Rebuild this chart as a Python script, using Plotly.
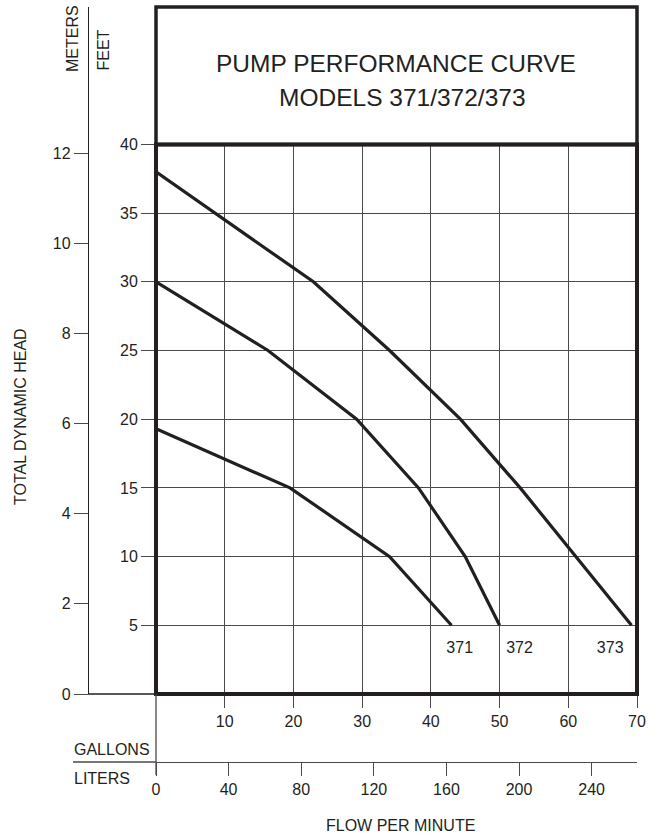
import plotly.graph_objects as go

# ---------------- data ----------------
gpm_371 = [0, 19.5, 34.0, 43.0]
ft_371 = [19.3, 15, 10, 5]
gpm_372 = [0, 16.3, 29.2, 38.2, 45.0, 50.0]
ft_372 = [30, 25, 20, 15, 10, 5]
gpm_373 = [0, 22.9, 34.0, 44.3, 53.0, 69.2]
ft_373 = [38.0, 30, 25, 20, 15, 5]

model_names = ["371", "372", "373"]
label_gpm = [44.2, 52.9, 66.1]
label_ft = [3.3, 3.3, 3.3]

gallon_ticks = [10, 20, 30, 40, 50, 60, 70]
liter_ticks = [0, 40, 80, 120, 160, 200, 240]
feet_ticks = [5, 10, 15, 20, 25, 30, 35, 40]
meter_ticks = [0, 2, 4, 6, 8, 10, 12]

title_lines = ["PUMP PERFORMANCE CURVE", "MODELS 371/372/373"]

GPM_MAX = 70
FT_MAX = 50          # top of title box
FT_GRID_TOP = 40
FT_TO_M = 0.3048
GAL_TO_L = 3.78541

# ---------------- layout geometry (pixels) ----------------
W, H = 659, 837
PX_L, PX_R = 156, 637
PY_BOT, PY_TOP = 694, 7
PX_METERS = 88
PY_LITERS = 762

def px(x):
    return x / W

def py(y):
    return (H - y) / H

def fy(ft):
    # feet -> paper y
    return py(PY_BOT) + (py(PY_TOP) - py(PY_BOT)) * ft / FT_MAX

INK = "#231f20"
GRID = "#4a4a4a"
FONT = "Liberation Sans, Arial, sans-serif"

fig = go.Figure()

for g, f in [(gpm_371, ft_371), (gpm_372, ft_372), (gpm_373, ft_373)]:
    fig.add_trace(go.Scatter(x=g, y=f, mode="lines",
                             line=dict(color=INK, width=3.2),
                             showlegend=False, hoverinfo="skip",
                             xaxis="x", yaxis="y"))

fig.add_trace(go.Scatter(x=label_gpm, y=label_ft, text=model_names, mode="text",
                         textfont=dict(family=FONT, size=16, color=INK),
                         showlegend=False, hoverinfo="skip", cliponaxis=False))

# dummy traces to activate secondary axes
fig.add_trace(go.Scatter(x=[0], y=[0], xaxis="x", yaxis="y2", mode="markers",
                         marker=dict(opacity=0), showlegend=False, hoverinfo="skip"))
fig.add_trace(go.Scatter(x=[0], y=[0], xaxis="x2", yaxis="y", mode="markers",
                         marker=dict(opacity=0), showlegend=False, hoverinfo="skip"))

tickfont = dict(family=FONT, size=16, color=INK)

fig.update_layout(
    width=W, height=H, autosize=False,
    margin=dict(l=0, r=0, t=0, b=0, autoexpand=False),
    paper_bgcolor="white", plot_bgcolor="white",
    font=dict(family=FONT, color=INK),
    xaxis=dict(domain=[px(PX_L), px(PX_R)], range=[0, GPM_MAX],
               tickvals=gallon_ticks, ticks="outside", ticklen=13,
               tickcolor=GRID, tickwidth=1.3, tickfont=tickfont,
               showgrid=True, gridcolor=GRID, gridwidth=1.3,
               zeroline=False, showline=False, anchor="y", fixedrange=True),
    yaxis=dict(domain=[py(PY_BOT), py(PY_TOP)], range=[0, FT_MAX],
               tickvals=feet_ticks, ticks="outside", ticklen=14,
               tickcolor=GRID, tickwidth=1.3, tickfont=tickfont,
               showgrid=True, gridcolor=GRID, gridwidth=1.3,
               zeroline=False, showline=False, anchor="x", fixedrange=True),
    yaxis2=dict(overlaying="y", anchor="free", position=px(PX_METERS), side="left",
                range=[0, FT_MAX * FT_TO_M], tickvals=meter_ticks,
                ticks="outside", ticklen=14, tickcolor=GRID, tickwidth=1.3,
                tickfont=tickfont, showline=True, linecolor=INK, linewidth=1.3,
                showgrid=False, zeroline=False, fixedrange=True),
    xaxis2=dict(overlaying="x", anchor="free", position=py(PY_LITERS), side="bottom",
                range=[0, GPM_MAX * GAL_TO_L], tickvals=liter_ticks,
                ticks="outside", ticklen=13, tickcolor=GRID, tickwidth=1.3,
                tickfont=tickfont, showline=True, linecolor=GRID, linewidth=1.3,
                showgrid=False, zeroline=False, fixedrange=True),
)

shapes = []
# title box (covers gridlines above 40 ft)
shapes.append(dict(type="rect", xref="paper", yref="paper",
                   x0=px(PX_L), x1=px(PX_R), y0=fy(FT_GRID_TOP), y1=fy(FT_MAX),
                   fillcolor="white", line=dict(color=INK, width=3.5), layer="above"))
# chart frame
shapes.append(dict(type="rect", xref="paper", yref="paper",
                   x0=px(PX_L), x1=px(PX_R), y0=fy(0), y1=fy(FT_GRID_TOP),
                   line=dict(color=INK, width=4), layer="above"))
# meters baseline joining frame
shapes.append(dict(type="line", xref="paper", yref="paper",
                   x0=px(PX_METERS), x1=px(PX_L), y0=fy(0), y1=fy(0),
                   line=dict(color=INK, width=1.3)))
# liters axis extension to the left
shapes.append(dict(type="line", xref="paper", yref="paper",
                   x0=px(73), x1=px(PX_L), y0=py(PY_LITERS), y1=py(PY_LITERS),
                   line=dict(color=GRID, width=1.3)))
# zero flow line down through liters axis
shapes.append(dict(type="line", xref="paper", yref="paper",
                   x0=px(PX_L), x1=px(PX_L), y0=fy(0), y1=py(PY_LITERS + 13),
                   line=dict(color=GRID, width=1.3)))
fig.update_layout(shapes=shapes)

ann = []
def text(t, x, y, size=16, angle=0, xanchor="center"):
    ann.append(dict(text=t, x=px(x), y=py(y), xref="paper", yref="paper",
                    showarrow=False, textangle=angle, xanchor=xanchor, yanchor="middle",
                    font=dict(family=FONT, size=size, color=INK)))

text(title_lines[0], 396, 63, size=24.5)
text(title_lines[1], 402, 97, size=24.5)
text("METERS", 72.5, 38.5, angle=-90)
text("FEET", 103.5, 50, angle=-90)
text("TOTAL DYNAMIC HEAD", 20, 417, angle=-90)
text("GALLONS", 72, 749, xanchor="left")
text("LITERS", 72, 778, xanchor="left")
text("FLOW PER MINUTE", 400, 825)
fig.update_layout(annotations=ann)

fig.write_html("out.html", config={"displayModeBar": False},
               post_script="document.body.style.margin='0px';document.body.style.padding='0px';")
